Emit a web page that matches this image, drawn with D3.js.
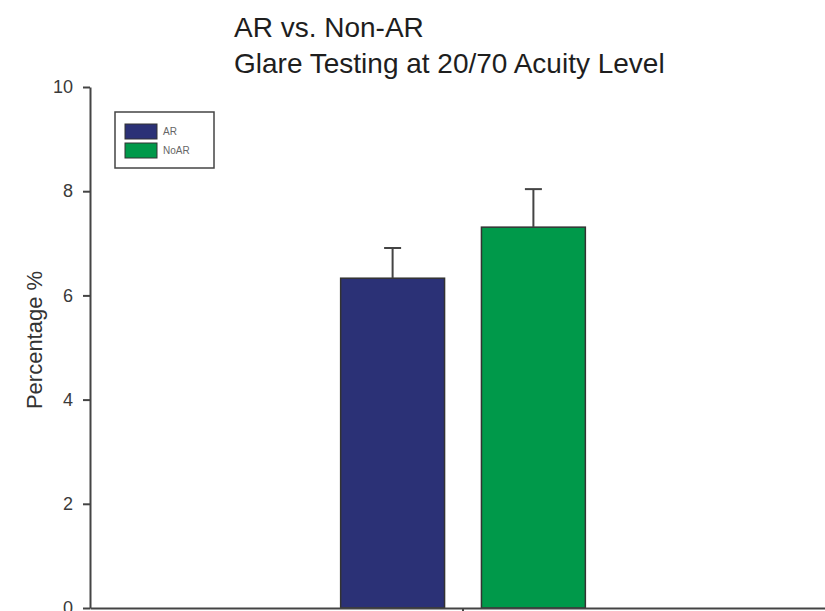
<!DOCTYPE html>
<html>
<head>
<meta charset="utf-8">
<script src="https://cdn.jsdelivr.net/npm/d3@7"></script>
<style>
  body { margin: 0; background: #fff; }
  svg { display: block; font-family: "Liberation Sans", Arial, sans-serif; }
</style>
</head>
<body>
<svg id="chart" width="825" height="611"></svg>
<script>
// values
const categories = ["Glare"];
const seriesNames = ["AR", "NoAR"];
const means = [6.33, 7.31];
const errors = [0.58, 0.73];
const yTicks = [0, 2, 4, 6, 8, 10];
const titleLines = ["AR vs. Non-AR", "Glare Testing at 20/70 Acuity Level"];

const colors = { "AR": "#2b3176", "NoAR": "#00994a" };
const axisColor = "#444";

const svg = d3.select("#chart");
const plot = { left: 90, right: 836, top: 87, bottom: 608 };

const y = d3.scaleLinear().domain([0, 10]).range([plot.bottom, plot.top]);
const x0 = d3.scaleBand().domain(categories).range([plot.left, plot.right])
    .paddingInner(0.506).paddingOuter(0.506);
const x1 = d3.scaleBand().domain(seriesNames).range([0, x0.bandwidth()])
    .paddingInner(0.262).paddingOuter(0);

const rows = seriesNames.map((s, i) => ({ cat: categories[0], name: s, mean: means[i], err: errors[i] }));

// title
svg.append("g").selectAll("text").data(titleLines).join("text")
    .attr("x", 234)
    .attr("y", (d, i) => 37 + i * 36)
    .attr("font-size", 28)
    .attr("fill", "#1e1e1e")
    .text(d => d);

// bars
const g = svg.append("g");
g.selectAll("rect.bar").data(rows).join("rect")
    .attr("class", "bar")
    .attr("x", d => x0(d.cat) + x1(d.name))
    .attr("y", d => y(d.mean))
    .attr("width", x1.bandwidth())
    .attr("height", d => y(0) - y(d.mean))
    .attr("fill", d => colors[d.name])
    .attr("stroke", "#333")
    .attr("stroke-width", 1.5);

// error bars (upper only)
const cap = 17;
const cx = d => x0(d.cat) + x1(d.name) + x1.bandwidth() / 2;
g.selectAll("line.err").data(rows).join("line")
    .attr("class", "err")
    .attr("x1", cx).attr("x2", cx)
    .attr("y1", d => y(d.mean))
    .attr("y2", d => y(d.mean + d.err))
    .attr("stroke", axisColor).attr("stroke-width", 2);
g.selectAll("line.cap").data(rows).join("line")
    .attr("class", "cap")
    .attr("x1", d => cx(d) - cap / 2)
    .attr("x2", d => cx(d) + cap / 2)
    .attr("y1", d => y(d.mean + d.err))
    .attr("y2", d => y(d.mean + d.err))
    .attr("stroke", axisColor).attr("stroke-width", 2);

// y axis
const yAxis = svg.append("g")
    .attr("transform", `translate(${plot.left},0)`)
    .call(d3.axisLeft(y).tickValues(yTicks).tickSize(7).tickPadding(10).tickSizeOuter(0));
yAxis.select(".domain").attr("stroke", axisColor).attr("stroke-width", 2);
yAxis.selectAll(".tick line").attr("stroke", axisColor).attr("stroke-width", 2);
yAxis.selectAll(".tick text").attr("font-size", 18).attr("fill", "#3a3a3a")
    .attr("font-family", "Liberation Sans, Arial, sans-serif");

// x axis
const xAxis = svg.append("g")
    .attr("transform", `translate(0,${plot.bottom})`)
    .call(d3.axisBottom(x0).tickSize(6).tickSizeOuter(0).tickFormat(""));
xAxis.select(".domain").attr("stroke", axisColor).attr("stroke-width", 2);
xAxis.selectAll(".tick line").attr("stroke", axisColor).attr("stroke-width", 2);

// y label
svg.append("text")
    .attr("transform", `translate(42,340) rotate(-90)`)
    .attr("text-anchor", "middle")
    .attr("font-size", 22)
    .attr("fill", "#333")
    .text("Percentage %");

// legend
const lg = svg.append("g").attr("transform", "translate(115,112)");
lg.append("rect").attr("width", 99).attr("height", 56)
    .attr("fill", "#fff").attr("stroke", axisColor).attr("stroke-width", 1.5);
const items = lg.selectAll("g").data(seriesNames).join("g")
    .attr("transform", (d, i) => `translate(10,${12 + i * 19})`);
items.append("rect").attr("width", 32).attr("height", 15)
    .attr("fill", d => colors[d]).attr("stroke", "#333").attr("stroke-width", 1);
items.append("text").attr("x", 38).attr("y", 11)
    .attr("font-size", 10).attr("fill", "#666").text(d => d);
</script>
</body>
</html>
